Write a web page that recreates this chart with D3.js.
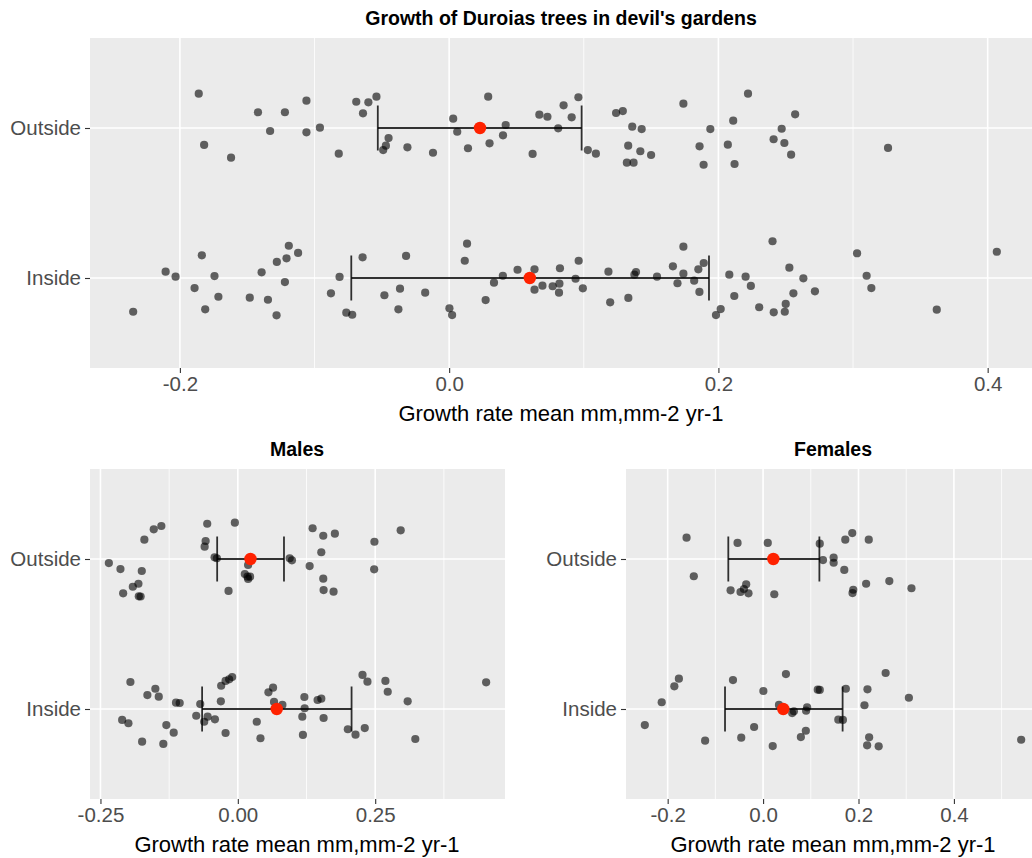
<!DOCTYPE html>
<html>
 <head>
    <meta charset="utf-8">
    <title>Growth of Duroias trees</title>
    <script src="https://d3js.org/d3.v7.min.js"></script>
    <style>
      body { margin: 0; background: #fff; }
      text { font-family: "Liberation Sans", Arial, sans-serif; }
    </style>
 </head>
 <body>
    <div id="chart"></div>
    <script>
      // categories on the y axis
      var groups = ["Outside", "Inside"];

      // each point: [growth rate, vertical jitter in category units]
      var allOutside = [
        [-0.186,-0.229],[-0.182,0.113],[-0.162,0.198],[-0.142,-0.105],[-0.122,-0.105],[-0.133,0.02],
        [-0.106,-0.182],[-0.106,0.029],[-0.096,-0.002],[-0.082,0.171],[-0.069,-0.175],[-0.060,-0.171],
        [-0.054,-0.209],[-0.064,-0.098],[-0.045,0.067],[-0.047,0.118],[-0.049,0.147],[-0.031,0.129],
        [-0.012,0.165],[0.003,-0.062],[0.006,0.025],[0.014,0.135],[0.029,-0.209],[0.030,0.102],
        [0.042,-0.02],[0.040,0.049],[0.062,0.173],[0.067,-0.089],[0.073,-0.075],[0.081,0.002],
        [0.085,-0.151],[0.091,-0.071],[0.096,-0.205],[0.103,0.147],[0.109,0.171],[0.124,-0.1],
        [0.129,-0.113],[0.136,-0.009],[0.143,0.007],[0.133,0.118],[0.142,0.155],[0.150,0.18],
        [0.132,0.231],[0.137,0.231],[0.174,-0.162],[0.194,0.007],[0.186,0.122],[0.189,0.245],
        [0.207,0.111],[0.211,-0.049],[0.212,0.24],[0.222,-0.229],[0.257,-0.091],[0.247,0.005],
        [0.241,0.075],[0.249,0.1],[0.254,0.178],[0.326,0.133]
      ];
      var allInside = [
        [-0.2347,0.225],[-0.2106,-0.042],[-0.2032,-0.009],[-0.1837,-0.151],[-0.1891,0.067],[-0.1743,-0.013],
        [-0.1714,0.125],[-0.1812,0.209],[-0.1481,0.131],[-0.1393,-0.038],[-0.1346,0.145],[-0.1282,0.249],
        [-0.128,-0.107],[-0.1208,-0.131],[-0.1191,-0.215],[-0.1122,-0.167],[-0.122,0.027],[-0.0878,0.102],
        [-0.0814,-0.007],[-0.0764,0.231],[-0.072,0.245],[-0.0643,-0.138],[-0.0481,0.115],[-0.0365,0.071],
        [-0.0377,0.209],[-0.032,-0.147],[-0.0178,0.098],[0.0002,0.202],[0.0022,0.247],[0.0133,-0.229],
        [0.0116,-0.115],[0.0271,0.147],[0.0333,0.031],[0.0399,-0.015],[0.0508,-0.055],[0.0634,-0.058],
        [0.0634,0.078],[0.0693,0.051],[0.0769,0.055],[0.0819,0.038],[0.0816,0.098],[0.0823,-0.065],
        [0.0939,0.005],[0.0962,-0.115],[0.0993,0.069],[0.1183,-0.042],[0.1196,0.162],[0.1331,0.133],
        [0.1376,-0.022],[0.1388,-0.04],[0.1544,-0.009],[0.1662,-0.078],[0.1696,0.035],[0.174,-0.209],
        [0.174,-0.029],[0.182,0.018],[0.1851,-0.058],[0.1859,0.093],[0.1891,-0.1],[0.1982,0.247],
        [0.2017,0.207],[0.2081,-0.022],[0.2118,0.12],[0.2202,-0.009],[0.2241,0.053],[0.2402,-0.245],
        [0.2303,0.195],[0.2411,0.229],[0.2493,0.225],[0.25,0.173],[0.2527,-0.069],[0.2557,0.102],
        [0.2631,0.002],[0.2717,0.089],[0.303,-0.165],[0.3101,-0.015],[0.3136,0.067],[0.3622,0.211],
        [0.4068,-0.175]
      ];
      var malesOutside = [
        [-0.2347,0.027],[-0.2136,0.067],[-0.1748,0.08],[-0.1701,-0.129],[-0.153,-0.198],[-0.1392,-0.22],
        [-0.1911,0.185],[-0.1809,0.165],[-0.2087,0.229],[-0.1802,0.249],[-0.1769,0.25],[-0.0557,-0.235],
        [-0.0586,-0.12],[-0.0604,-0.082],[-0.0423,-0.011],[-0.0381,-0.005],[-0.0054,-0.242],[-0.0169,0.213],
        [0.0187,0.04],[0.0127,0.1],[0.0176,0.118],[0.0223,0.118],[0.0187,0.133],[0.0944,-0.005],
        [0.0985,0.009],[0.1361,-0.205],[0.1555,-0.155],[0.1766,-0.169],[0.1519,-0.045],[0.1307,0.047],
        [0.1555,0.131],[0.1561,0.207],[0.1742,0.218],[0.2486,-0.115],[0.2481,0.069],[0.2964,-0.191]
      ];
      var malesInside = [
        [-0.2105,0.073],[-0.1991,0.095],[-0.1955,-0.18],[-0.1742,0.218],[-0.1646,-0.093],[-0.1501,-0.135],
        [-0.1439,-0.082],[-0.1356,0.233],[-0.1301,0.107],[-0.1167,0.158],[-0.1125,-0.042],[-0.1058,-0.04],
        [-0.0757,0.045],[-0.0684,-0.033],[-0.0612,0.085],[-0.055,0.051],[-0.0417,0.069],[-0.0309,-0.051],
        [-0.0303,-0.155],[-0.0223,-0.187],[-0.0158,-0.198],[-0.0103,-0.213],[-0.0223,0.16],[0.0345,0.085],
        [0.0412,0.195],[0.0557,-0.111],[0.0641,-0.142],[0.0659,-0.047],[0.0811,-0.027],[0.1211,-0.08],
        [0.1216,-0.005],[0.1174,0.051],[0.1185,0.173],[0.1452,-0.06],[0.1519,-0.069],[0.1561,0.06],
        [0.2002,0.135],[0.2142,0.171],[0.2269,-0.227],[0.2359,-0.182],[0.231,0.127],[0.2686,-0.187],
        [0.2728,-0.115],[0.3091,-0.051],[0.323,0.2],[0.4519,-0.178]
      ];
      var femalesOutside = [
        [-0.1604,-0.142],[-0.1452,0.115],[-0.0535,-0.107],[0.0098,-0.107],[-0.0681,0.209],[-0.0473,0.22],
        [-0.0354,0.169],[-0.0402,0.2],[-0.0306,0.229],[0.0235,0.235],[0.1188,-0.102],[0.1256,0.007],
        [0.1479,-0.009],[0.1479,0.025],[0.1702,0.073],[0.1723,-0.129],[0.1869,-0.173],[0.2215,-0.129],
        [0.216,0.165],[0.189,0.205],[0.1875,0.227],[0.2646,0.147],[0.311,0.195]
      ];
      var femalesInside = [
        [-0.2479,0.107],[-0.2125,-0.045],[-0.186,-0.151],[-0.1765,-0.202],[-0.1215,0.211],[-0.0631,-0.193],
        [-0.0458,0.191],[-0.0188,0.12],[0.0006,-0.12],[0.0202,0.247],[0.0333,-0.027],[0.0479,-0.233],
        [0.061,0.027],[0.0646,0.015],[0.0792,0.187],[0.0896,0.145],[0.0902,0.011],[0.0923,-0.011],
        [0.1146,-0.129],[0.1188,-0.127],[0.1577,0.071],[0.1673,0.073],[0.1735,-0.135],[0.2125,-0.025],
        [0.2188,-0.131],[0.2223,0.189],[0.2181,0.242],[0.2423,0.249],[0.2569,-0.24],[0.3056,-0.075],
        [0.541,0.205]
      ];

      // summary per group: [mean, lower, upper]
      var allSummary = { Outside: [0.0229, -0.053, 0.0984], Inside: [0.0599, -0.0727, 0.193] };
      var malesSummary = { Outside: [0.023, -0.0376, 0.084], Inside: [0.0708, -0.065, 0.207] };
      var femalesSummary = { Outside: [0.0215, -0.0729, 0.118], Inside: [0.0423, -0.0798, 0.1667] };

      // tick labels
      var allTicks = [-0.2, 0.0, 0.2, 0.4];
      var allMinor = [-0.1, 0.1, 0.3];
      var malesTicks = [-0.25, 0.0, 0.25];
      var malesMinor = [-0.125, 0.125, 0.375];
      var femalesTicks = [-0.2, 0.0, 0.2, 0.4];
      var femalesMinor = [-0.1, 0.1, 0.3, 0.5];

      var xTitle = "Growth rate mean mm,mm-2 yr-1";

      var svg = d3.select("#chart").append("svg")
        .attr("width", 1032)
        .attr("height", 858);

      function drawPanel(p) {
        var vals = [];
        groups.forEach(function (g) {
          p.points[g].forEach(function (d) { vals.push(d[0]); });
          vals.push(p.summary[g][1], p.summary[g][2]);
        });
        var ext = d3.extent(vals);
        var pad = (ext[1] - ext[0]) * 0.05;

        var x = d3.scaleLinear()
          .domain([ext[0] - pad, ext[1] + pad])
          .range([p.x0, p.x1]);
        var y = d3.scalePoint()
          .domain(groups)
          .range([p.y0, p.y1])
          .padding(0.6);
        var step = y.step();

        var g = svg.append("g");

        // clip to the panel
        var clipId = "clip" + p.id;
        g.append("clipPath").attr("id", clipId)
          .append("rect")
          .attr("x", p.x0).attr("y", p.y0)
          .attr("width", p.x1 - p.x0).attr("height", p.y1 - p.y0);

        g.append("rect")
          .attr("x", p.x0).attr("y", p.y0)
          .attr("width", p.x1 - p.x0).attr("height", p.y1 - p.y0)
          .attr("fill", "#EBEBEB");

        // grid lines
        g.selectAll(".minor").data(p.minor).enter().append("line")
          .attr("x1", function (d) { return x(d); }).attr("x2", function (d) { return x(d); })
          .attr("y1", p.y0).attr("y2", p.y1)
          .attr("stroke", "#fff").attr("stroke-width", 0.8);
        g.selectAll(".major").data(p.ticks).enter().append("line")
          .attr("x1", function (d) { return x(d); }).attr("x2", function (d) { return x(d); })
          .attr("y1", p.y0).attr("y2", p.y1)
          .attr("stroke", "#fff").attr("stroke-width", 1.6);
        g.selectAll(".hmajor").data(groups).enter().append("line")
          .attr("x1", p.x0).attr("x2", p.x1)
          .attr("y1", function (d) { return y(d); }).attr("y2", function (d) { return y(d); })
          .attr("stroke", "#fff").attr("stroke-width", 1.6);

        var inner = g.append("g").attr("clip-path", "url(#" + clipId + ")");

        // jittered points
        groups.forEach(function (grp) {
          inner.selectAll(null).data(p.points[grp]).enter().append("circle")
            .attr("cx", function (d) { return x(d[0]); })
            .attr("cy", function (d) { return y(grp) + d[1] * step; })
            .attr("r", 4.1)
            .attr("fill", "#000")
            .attr("fill-opacity", 0.6);
        });

        // error bars and means
        groups.forEach(function (grp) {
          var s = p.summary[grp];
          var cy = y(grp);
          var cap = 0.15 * step;
          var eb = inner.append("g")
            .attr("stroke", "#000").attr("stroke-opacity", 0.8).attr("stroke-width", 1.8);
          eb.append("line").attr("x1", x(s[1])).attr("x2", x(s[2])).attr("y1", cy).attr("y2", cy);
          eb.append("line").attr("x1", x(s[1])).attr("x2", x(s[1])).attr("y1", cy - cap).attr("y2", cy + cap);
          eb.append("line").attr("x1", x(s[2])).attr("x2", x(s[2])).attr("y1", cy - cap).attr("y2", cy + cap);
          inner.append("circle")
            .attr("cx", x(s[0])).attr("cy", cy).attr("r", 6.2)
            .attr("fill", "#FF2200");
        });

        // axes
        var fmt = d3.format(p.fmt);
        var xAxis = d3.axisBottom(x)
          .tickValues(p.ticks)
          .tickSize(5)
          .tickPadding(3)
          .tickFormat(function (d) { return fmt(d).replace("\u2212", "-"); });
        var xg = svg.append("g")
          .attr("transform", "translate(0," + p.y1 + ")")
          .call(xAxis);
        xg.select(".domain").remove();
        xg.selectAll(".tick line").attr("stroke", "#333").attr("stroke-width", 1.1);
        xg.selectAll(".tick text")
          .attr("fill", "#4D4D4D")
          .style("font-size", "20.5px")
          .style("font-family", "'Liberation Sans', Arial, sans-serif");

        var yAxis = d3.axisLeft(y).tickSize(5).tickPadding(4);
        var yg = svg.append("g")
          .attr("transform", "translate(" + p.x0 + ",0)")
          .call(yAxis);
        yg.select(".domain").remove();
        yg.selectAll(".tick line").attr("stroke", "#333").attr("stroke-width", 1.1);
        yg.selectAll(".tick text")
          .attr("fill", "#4D4D4D")
          .style("font-size", "20.5px")
          .style("font-family", "'Liberation Sans', Arial, sans-serif");

        // titles
        svg.append("text")
          .attr("x", p.titleX).attr("y", p.y1 + 53)
          .attr("text-anchor", "middle")
          .style("font-size", "22px")
          .attr("fill", "#000")
          .text(xTitle);
        svg.append("text")
          .attr("x", p.titleX).attr("y", p.y0 - 13)
          .attr("text-anchor", "middle")
          .style("font-size", p.titleSize)
          .style("font-weight", "bold")
          .attr("fill", "#000")
          .text(p.title);
      }

      drawPanel({
        id: "all", x0: 90, x1: 1040, y0: 38, y1: 368,
        points: { Outside: allOutside, Inside: allInside },
        summary: allSummary, ticks: allTicks, minor: allMinor, fmt: ".1f",
        title: "Growth of Duroias trees in devil's gardens", titleSize: "19.5px", titleX: 561
      });
      drawPanel({
        id: "males", x0: 90, x1: 505, y0: 469, y1: 799,
        points: { Outside: malesOutside, Inside: malesInside },
        summary: malesSummary, ticks: malesTicks, minor: malesMinor, fmt: ".2f",
        title: "Males", titleSize: "19.5px", titleX: 297
      });
      drawPanel({
        id: "females", x0: 626, x1: 1040, y0: 469, y1: 799,
        points: { Outside: femalesOutside, Inside: femalesInside },
        summary: femalesSummary, ticks: femalesTicks, minor: femalesMinor, fmt: ".1f",
        title: "Females", titleSize: "19.5px", titleX: 833
      });
    </script>
 </body>
</html>
